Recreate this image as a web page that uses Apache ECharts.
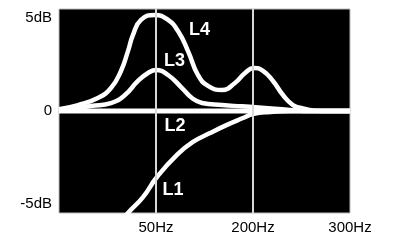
<!DOCTYPE html>
<html>
<head>
<meta charset="utf-8">
<script src="https://cdn.jsdelivr.net/npm/echarts@6/dist/echarts.min.js"></script>
<style>html,body{margin:0;padding:0;background:#fff}#c{width:406px;height:249px}</style>
</head>
<body>
<div id="c"></div>
<script>
var xTickValues = [1, 2, 3];
var xTickLabels = ['50Hz', '200Hz', '300Hz'];
var yTickValues = [-5, 0, 5];
var yTickLabels = ['-5dB', '0', '5dB'];

var L1 = [[0.64,-5.95],[0.711,-5.5],[0.866,-4.64],[1.01,-3.56],[1.216,-2.37],[1.381,-1.67],[1.557,-1.19],[1.732,-0.75],[1.897,-0.38],[2.0,-0.16],[2.175,-0.05],[2.4,0],[3,0]];
var L2 = [[0,0],[3,0]];
var L3 = [[0,0],[0.33,0.27],[0.536,0.43],[0.68,0.86],[0.814,1.62],[0.918,2.05],[1.0,2.21],[1.124,1.94],[1.268,1.24],[1.371,0.70],[1.474,0.43],[1.68,0.32],[1.887,0.25],[2.09,0.18],[2.38,0.06],[2.6,0],[3,0]];
var L4 = [[0,0.1],[0.196,0.32],[0.40,0.70],[0.536,1.24],[0.639,2.16],[0.711,3.23],[0.763,4.10],[0.845,4.91],[0.99,5.18],[1.124,4.91],[1.227,4.31],[1.33,3.23],[1.433,1.94],[1.536,1.35],[1.68,1.13],[1.814,1.51],[1.918,2.05],[2.01,2.32],[2.103,2.16],[2.206,1.62],[2.309,0.86],[2.412,0.32],[2.515,0.14],[2.7,0],[3,0]];
var seriesNames = ['L1', 'L2', 'L3', 'L4'];
var labelPos = [[1.175,-4.26],[1.196,-0.81],[1.19,2.67],[1.448,4.39]];

function lineSeries(data, w) {
  return {type:'line', data:data, smooth:0.5, symbol:'none', clip:true,
    lineStyle:{color:'#fff', width:w, opacity:1}, z:3};
}
var chart = echarts.init(document.getElementById('c'));
chart.setOption({
  animation:false,
  grid:{left:59, right:56, top:9, bottom:36, show:true, backgroundColor:'#000', borderColor:'#bbb', borderWidth:1},
  xAxis:{type:'value', min:0, max:3,
    axisLine:{show:false}, axisTick:{show:false}, splitLine:{show:false},
    axisLabel:{customValues:xTickValues, color:'#000', fontSize:15, fontFamily:'Liberation Sans, Arial, sans-serif', margin:7,
      formatter:function(v){var i=xTickValues.indexOf(v);return i>=0?xTickLabels[i]:'';}}},
  yAxis:{type:'value', min:-5.5, max:5.5,
    axisLine:{show:false}, axisTick:{show:false}, splitLine:{show:false},
    axisLabel:{customValues:yTickValues, color:'#000', fontSize:15, fontFamily:'Liberation Sans, Arial, sans-serif', margin:7,
      formatter:function(v){var i=yTickValues.indexOf(v);return i>=0?yTickLabels[i]:'';}}},
  series:[
    {type:'line', data:[], markLine:{silent:true, symbol:'none', label:{show:false},
      lineStyle:{color:'#d8d8d8', width:2, type:'solid', opacity:1},
      data:[{xAxis:xTickValues[0]},{xAxis:xTickValues[1]}]}, z:2},
    lineSeries(L1,4.5), lineSeries(L2,5), lineSeries(L3,4.5), lineSeries(L4,4.5),
    {type:'scatter', symbolSize:0, z:5, silent:true, itemStyle:{opacity:1},
      data:labelPos.map(function(p,i){return {value:p, name:seriesNames[i]};}),
      label:{show:true, position:'inside', formatter:'{b}', color:'#ffffff', opacity:1, fontSize:18, fontWeight:'bold', fontFamily:'Liberation Sans, Arial, sans-serif'}}
  ]
});
</script>
</body>
</html>
